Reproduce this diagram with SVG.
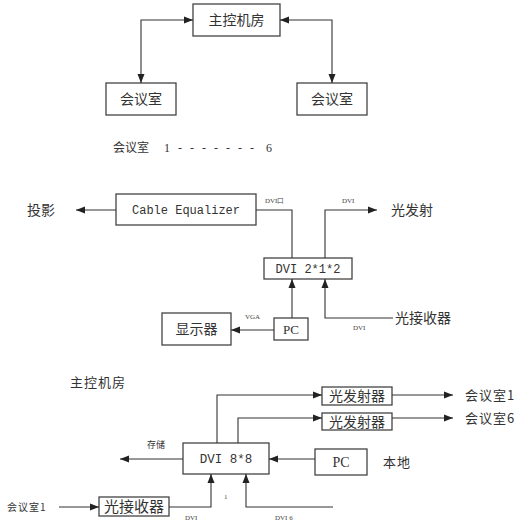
<svg xmlns="http://www.w3.org/2000/svg" width="519" height="524" viewBox="0 0 519 524">
<defs>
<marker id="ah" markerUnits="userSpaceOnUse" markerWidth="10" markerHeight="8" refX="9" refY="3.5" orient="auto-start-reverse" overflow="visible"><path d="M0,0 L9,3.5 L0,7 z" fill="#222"/></marker>
<style>
.box{fill:#fff;stroke:#444;stroke-width:1.3}
.ln{fill:none;stroke:#333;stroke-width:1.1}
.cn{font-family:"Noto Sans CJK SC",sans-serif;fill:#333}
.mo{font-family:"Liberation Mono",monospace;fill:#333}
.se{font-family:"Liberation Serif",serif;fill:#333}
.sm{font-family:"Liberation Serif",serif;fill:#444;font-size:7px}
</style>
</defs>
<rect width="519" height="524" fill="#fff"/>
<g id="n-main"><rect class="box" x="193" y="4" width="87" height="32"/><text class="cn" x="236.5" y="25" font-size="14" text-anchor="middle">主控机房</text></g>
<g id="n-room-l"><rect class="box" x="106" y="83" width="70" height="32"/><text class="cn" x="141" y="104" font-size="14" text-anchor="middle">会议室</text></g>
<g id="n-room-r"><rect class="box" x="297" y="83" width="70" height="32"/><text class="cn" x="332" y="104" font-size="14" text-anchor="middle">会议室</text></g>
<g id="t-rooms"><text class="cn" x="113" y="152" font-size="12">会议室</text><text class="se" font-size="12" y="152"><tspan x="164">1</tspan><tspan x="178">-</tspan><tspan x="190">-</tspan><tspan x="202">-</tspan><tspan x="214">-</tspan><tspan x="226">-</tspan><tspan x="238">-</tspan><tspan x="250">-</tspan><tspan x="266">6</tspan></text></g>
<g id="n-cable"><rect class="box" x="116" y="194" width="140" height="31"/><text class="mo" x="186" y="214" font-size="12" text-anchor="middle">Cable Equalizer</text></g>
<g id="t-proj"><text class="cn" x="27" y="215" font-size="14">投影</text></g>
<g id="t-dvik"><text class="sm" x="265" y="203">DVI口</text></g>
<g id="t-dvi1"><text class="sm" x="342" y="203">DVI</text></g>
<g id="t-gfs"><text class="cn" x="391" y="215" font-size="14">光发射</text></g>
<g id="n-dvi212"><rect class="box" x="264" y="258" width="88" height="21"/><text class="mo" x="308" y="273" font-size="12" text-anchor="middle">DVI 2*1*2</text></g>
<g id="t-gjs"><text class="cn" x="395" y="323" font-size="14">光接收器</text></g>
<g id="t-dvi2"><text class="sm" x="353" y="330">DVI</text></g>
<g id="n-pc1"><rect class="box" x="274" y="318" width="34" height="22"/><text class="se" x="291" y="334" font-size="13" text-anchor="middle">PC</text></g>
<g id="n-disp"><rect class="box" x="162" y="313" width="69" height="32"/><text class="cn" x="196.5" y="334" font-size="14" text-anchor="middle">显示器</text></g>
<g id="t-vga"><text class="sm" x="245" y="319">VGA</text></g>
<g id="t-main2"><text class="cn" x="70" y="387" font-size="13" letter-spacing="1">主控机房</text></g>
<g id="n-tx1"><rect class="box" x="322" y="387" width="70" height="18"/><text class="cn" x="357" y="401" font-size="14" text-anchor="middle">光发射器</text></g>
<g id="n-tx6"><rect class="box" x="322" y="413" width="70" height="17"/><text class="cn" x="357" y="426.5" font-size="14" text-anchor="middle">光发射器</text></g>
<g id="t-r1"><text class="cn" x="465" y="400" font-size="13" letter-spacing="1">会议室1</text></g>
<g id="t-r6"><text class="cn" x="465" y="423" font-size="13" letter-spacing="1">会议室6</text></g>
<g id="n-dvi88"><rect class="box" x="183" y="443" width="86" height="31"/><text class="mo" x="226" y="463" font-size="12.5" text-anchor="middle">DVI 8*8</text></g>
<g id="t-store"><text class="cn" x="147" y="448" font-size="9">存储</text></g>
<g id="n-pc2"><rect class="box" x="315" y="449" width="52" height="26"/><text class="se" x="341" y="467" font-size="14" text-anchor="middle">PC</text></g>
<g id="t-local"><text class="cn" x="383" y="467" font-size="13" letter-spacing="1">本地</text></g>
<g id="n-rx"><rect class="box" x="99" y="497" width="70" height="19"/><text class="cn" x="134" y="512" font-size="15" text-anchor="middle">光接收器</text></g>
<g id="t-r1b"><text class="cn" x="7" y="511" font-size="10" letter-spacing="1">会议室1</text></g>
<g id="t-one"><text class="sm" x="224" y="499">1</text></g>
<g id="t-dvi3"><text class="sm" x="185" y="520">DVI</text></g>
<g id="t-dvi6"><text class="sm" x="275" y="520">DVI 6</text></g>
<g id="connectors">
<path class="ln" d="M141,83 V20 H193" marker-start="url(#ah)" marker-end="url(#ah)"/>
<path class="ln" d="M332,83 V20 H280" marker-start="url(#ah)" marker-end="url(#ah)"/>
<path class="ln" d="M116,210 H76" marker-end="url(#ah)"/>
<path class="ln" d="M256,210 H292 V258"/>
<path class="ln" d="M325,258 V210 H377" marker-end="url(#ah)"/>
<path class="ln" d="M292,318 V279" marker-end="url(#ah)"/>
<path class="ln" d="M393,318 H325 V279" marker-end="url(#ah)"/>
<path class="ln" d="M274,330 H231" marker-end="url(#ah)"/>
<path class="ln" d="M217,443 V395 H322" marker-end="url(#ah)"/>
<path class="ln" d="M238,443 V418 H322" marker-end="url(#ah)"/>
<path class="ln" d="M392,395 H453" marker-end="url(#ah)"/>
<path class="ln" d="M392,418 H453" marker-end="url(#ah)"/>
<path class="ln" d="M183,459 H120" marker-end="url(#ah)"/>
<path class="ln" d="M315,459 H269" marker-end="url(#ah)"/>
<path class="ln" d="M59,507 H99" marker-end="url(#ah)"/>
<path class="ln" d="M169,507 H211 V474" marker-end="url(#ah)"/>
<path class="ln" d="M333,507 H246 V474" marker-end="url(#ah)"/>
</g>
</svg>
